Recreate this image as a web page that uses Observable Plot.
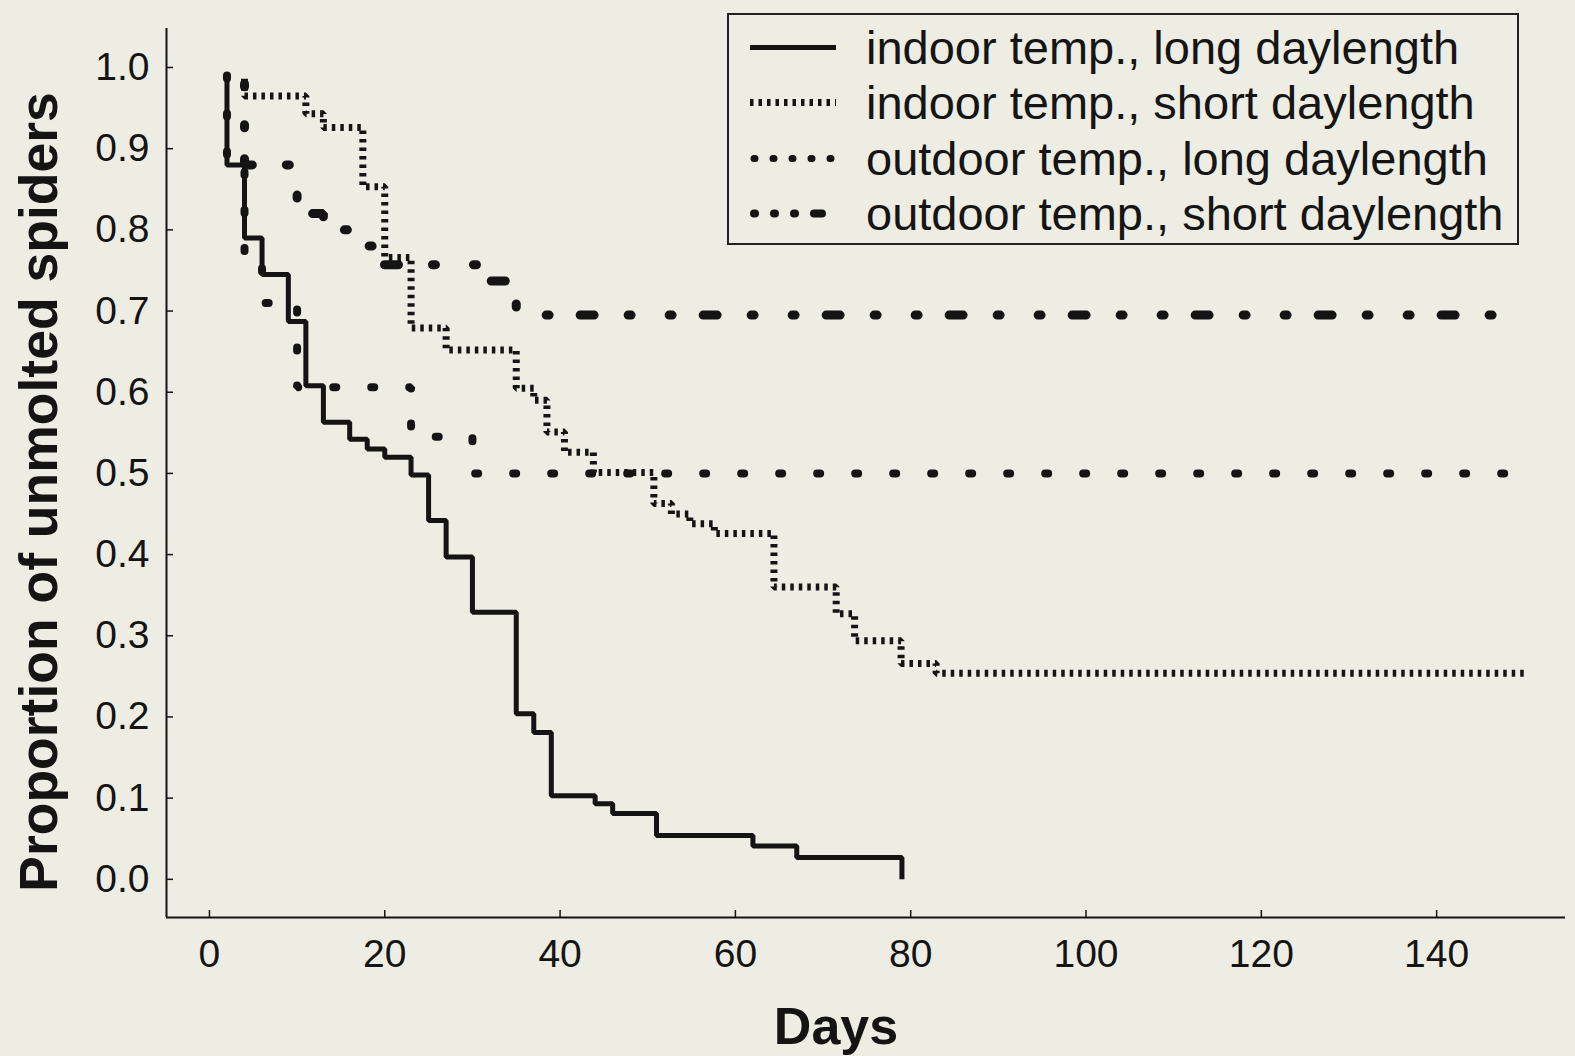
<!DOCTYPE html>
<html>
<head>
<meta charset="utf-8">
<script src="https://cdn.jsdelivr.net/npm/d3@7"></script>
<script src="https://cdn.jsdelivr.net/npm/@observablehq/plot@0.6"></script>
<style>
  html, body { margin: 0; padding: 0; background: #ededE3; }
  #wrap { position: relative; width: 1575px; height: 1056px; overflow: hidden;
          font-family: "Liberation Sans", Arial, sans-serif; color: #151515; }
  #legend { position: absolute; left: 727px; top: 13px; width: 792px; height: 232px;
            border: 2px solid #222; box-sizing: border-box; background: #ededE3; }
  .row { position: absolute; left: 0; height: 55px; display: flex; align-items: center; }
  .row svg { position: absolute; left: 19px; }
  .row span { position: absolute; left: 137px; font-size: 47px; line-height: 55px; white-space: nowrap; top: 0; }
</style>
</head>
<body>
<div id="wrap"><div id="legend"></div></div>
<script>
// ---- data ----
const seriesNames = [
  "indoor temp., long daylength",
  "indoor temp., short daylength",
  "outdoor temp., long daylength",
  "outdoor temp., short daylength"
];
const indoorLongDays  = [2, 2, 4, 6, 9, 11, 13, 16, 18, 20, 23, 25, 27, 30, 35, 37, 39, 44, 46, 51, 62, 67, 79];
const indoorLongProp  = [0.99, 0.88, 0.79, 0.745, 0.687, 0.608, 0.563, 0.542, 0.530, 0.520, 0.498, 0.442, 0.397, 0.329, 0.204, 0.181, 0.103, 0.093, 0.081, 0.054, 0.041, 0.027, 0.0];
const indoorShortDays = [4, 4, 11, 13, 17.5, 20, 23, 27, 35, 37, 38.5, 40.5, 43.8, 50.7, 52.7, 54.8, 57.6, 64.4, 71.5, 73.6, 78.9, 82.9, 150];
const indoorShortProp = [0.986, 0.965, 0.943, 0.926, 0.853, 0.766, 0.679, 0.652, 0.605, 0.590, 0.551, 0.526, 0.501, 0.463, 0.450, 0.438, 0.426, 0.360, 0.327, 0.294, 0.266, 0.254, 0.254];
const outdoorLongDays = [2, 2, 4, 6, 10, 23, 30, 150];
const outdoorLongProp = [0.99, 0.88, 0.77, 0.71, 0.606, 0.545, 0.5, 0.5];
const outdoorShortDays = [4, 4, 10, 13, 16, 19, 31, 35, 150];
const outdoorShortProp = [0.98, 0.88, 0.82, 0.80, 0.78, 0.757, 0.737, 0.695, 0.695];

const xTicks = [0, 20, 40, 60, 80, 100, 120, 140];
const yTicks = [0, 0.1, 0.2, 0.3, 0.4, 0.5, 0.6, 0.7, 0.8, 0.9, 1.0];
const xLabel = "Days";
const yLabel = "Proportion of unmolted spiders";

// ---- styles ----
const ink = "#141414";
const styles = [
  {strokeWidth: 5, strokeDasharray: null, strokeLinecap: "butt", legendDash: null, legendWidth: 5, legendCap: "butt"},
  {strokeWidth: 7, strokeDasharray: "3.5 5", strokeLinecap: "butt", legendDash: "3.5 5", legendWidth: 7, legendCap: "butt"},
  {strokeWidth: 8, strokeDasharray: "3 35", strokeLinecap: "round", legendDash: "1 18", legendWidth: 7, legendCap: "round"},
  {strokeWidth: 9, strokeDasharray: "3 38 3 31 14 34", strokeLinecap: "round", legendDash: "1 19 1 19 1 19 8 40", legendWidth: 8, legendCap: "round"}
];
const daysBySeries = [indoorLongDays, indoorShortDays, outdoorLongDays, outdoorShortDays];
const propBySeries = [indoorLongProp, indoorShortProp, outdoorLongProp, outdoorShortProp];
const tables = daysBySeries.map((ds, k) => ds.map((d, i) => ({day: d, prop: propBySeries[k][i], series: seriesNames[k]})));

const xDomain = [-4.9, 154.7];
const yDomain = [-0.047, 1.048];

const chart = Plot.plot({
  width: 1575,
  height: 1056,
  marginLeft: 166,
  marginRight: 10,
  marginTop: 28,
  marginBottom: 139,
  style: {background: "transparent", fontFamily: "'Liberation Sans', Arial, sans-serif", color: ink, overflow: "visible"},
  x: {domain: xDomain},
  y: {domain: yDomain},
  marks: [
    Plot.ruleX([xDomain[0]], {stroke: ink, strokeWidth: 2}),
    Plot.ruleY([yDomain[0]], {stroke: ink, strokeWidth: 2}),
    Plot.axisX(xTicks, {tickSize: -7, tickPadding: 29, label: null, fontSize: 39, stroke: ink, strokeWidth: 1.5}),
    Plot.axisY(yTicks, {tickSize: -7, tickPadding: 24, label: null, fontSize: 39, tickFormat: d3.format(".1f"), stroke: ink, strokeWidth: 1.5}),
    ...tables.map((t, k) => Plot.line(t, {
      x: "day", y: "prop", curve: "step-after",
      stroke: ink,
      strokeWidth: styles[k].strokeWidth,
      strokeDasharray: styles[k].strokeDasharray,
      strokeLinecap: styles[k].strokeLinecap,
      strokeLinejoin: "miter"
    })),
    Plot.text([yLabel], {frameAnchor: "left", textAnchor: "middle", rotate: -90, dx: -110, dy: 19, lineAnchor: "bottom",
      fontSize: 53.5, fontWeight: "bold", fill: ink}),
    Plot.text([xLabel], {frameAnchor: "bottom", textAnchor: "middle", dx: -30, dy: 126, lineAnchor: "bottom",
      fontSize: 52, fontWeight: "bold", fill: ink})
  ]
});
document.getElementById("wrap").prepend(chart);
chart.style.position = "absolute";
chart.style.left = "0";
chart.style.top = "0";

// ---- legend ----
const legend = document.getElementById("legend");
const rowCenters = [34, 89.5, 145, 200];
seriesNames.forEach((name, k) => {
  const row = document.createElement("div");
  row.className = "row";
  row.style.top = (rowCenters[k] - 27.5 - 2) + "px";
  const s = styles[k];
  const ns = "http://www.w3.org/2000/svg";
  const svg = document.createElementNS(ns, "svg");
  svg.setAttribute("width", "92");
  svg.setAttribute("height", "55");
  const line = document.createElementNS(ns, "line");
  const pad = s.legendCap === "round" ? 4 : 0;
  line.setAttribute("x1", 2 + pad);
  line.setAttribute("x2", 88 - pad);
  line.setAttribute("y1", 27.5);
  line.setAttribute("y2", 27.5);
  line.setAttribute("stroke", ink);
  line.setAttribute("stroke-width", s.legendWidth);
  line.setAttribute("stroke-linecap", s.legendCap);
  if (s.legendDash) line.setAttribute("stroke-dasharray", s.legendDash);
  svg.appendChild(line);
  const span = document.createElement("span");
  span.textContent = name;
  row.appendChild(svg);
  row.appendChild(span);
  legend.appendChild(row);
});
</script>
</body>
</html>
